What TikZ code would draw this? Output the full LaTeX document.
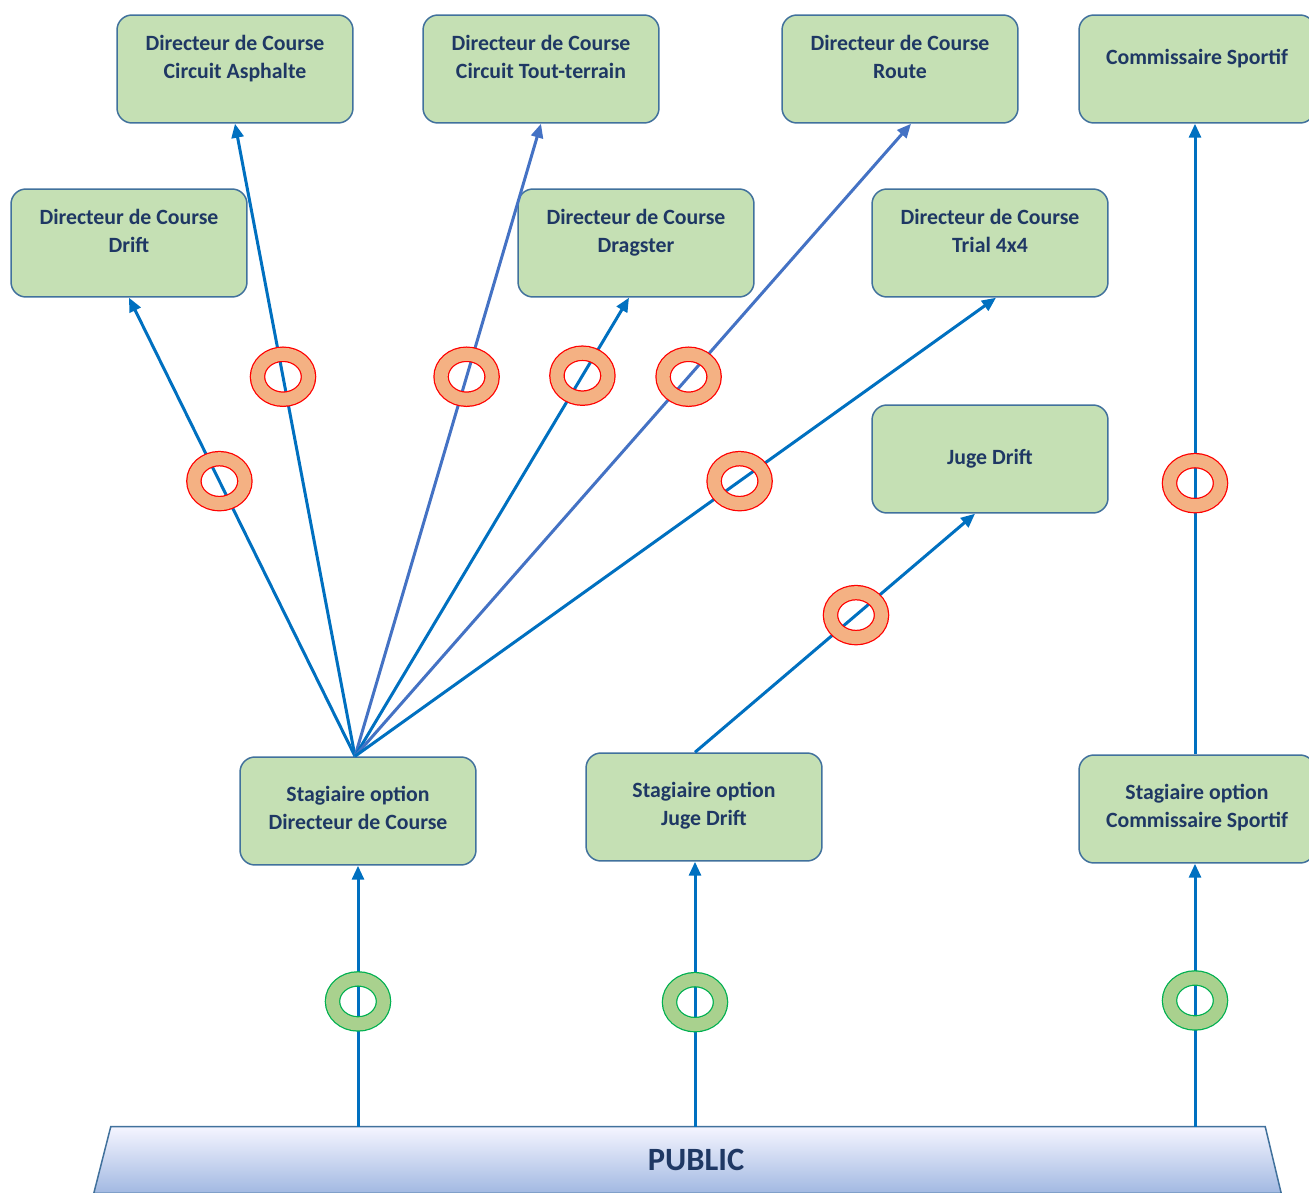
\documentclass[tikz,border=0pt]{standalone}
\usepackage{fontspec}
\setmainfont{Carlito}
\usetikzlibrary{shapes.geometric,arrows.meta}
\pgfdeclarelayer{fondo}
\pgfsetlayers{fondo, main}
\definecolor{vert}{HTML}{C5E0B4}
\definecolor{bord}{HTML}{41719C}
\definecolor{encre}{HTML}{1F3864}
\definecolor{bleu}{HTML}{0070C0}
\definecolor{bleuclair}{HTML}{4472C4}
\definecolor{peche}{HTML}{F4B183}
\definecolor{vertclair}{HTML}{A9D18E}
\definecolor{vertvif}{HTML}{00B050}
\tikzstyle{boite}=[rectangle,rounded corners=0.3cm,draw=bord,line width=0.03cm,fill=vert,minimum width=4.72cm,minimum height=2.16cm,align=center,text=encre,font=\fontsize{12.4pt}{15.9pt}\selectfont\bfseries,inner sep=0pt]
\tikzstyle{haut}=[text depth=0.5cm]
\tikzstyle{bas}=[text depth=0.14cm]
\tikzstyle{fleche}=[draw=bleu,line width=0.06cm,-{Triangle[length=0.28cm,width=0.24cm]}]
\tikzstyle{flecheclair}=[fleche,draw=bleuclair]
\tikzstyle{anneau}=[ellipse,draw=red,line width=0.025cm,double=peche,double distance=0.26cm,minimum width=1.02cm,minimum height=0.9cm,inner sep=0pt]
\tikzstyle{anneauvert}=[anneau,draw=vertvif,double=vertclair]

\begin{document}
\begin{tikzpicture}[x=0.02cm,y=-0.02cm]
	\useasboundingbox (0,0) rectangle (1309,1193);
	% rangee du haut
	\node [boite,haut] (asph) at (235,69) {Directeur de Course\\Circuit Asphalte};
	\node [boite,haut] (tout) at (541,69) {Directeur de Course\\Circuit Tout-terrain};
	\node [boite,haut] (route) at (900,69) {Directeur de Course\\Route};
	\node [boite,haut] (comm) at (1197,69) {Commissaire Sportif};
	\node [boite,haut] (drift) at (129,243) {Directeur de Course\\Drift};
	\node [boite,haut] (drag) at (636,243) {Directeur de Course\\Dragster};
	\node [boite,haut] (trial) at (990,243) {Directeur de Course\\Trial 4x4};
	\node [boite] (juge) at (990,459) {Juge Drift};
	% stagiaires
	\node [boite,bas] (stdc) at (358,811) {Stagiaire option\\Directeur de Course};
	\node [boite,bas] (stju) at (704,807) {Stagiaire option\\Juge Drift};
	\node [boite,bas] (stcs) at (1197,809) {Stagiaire option\\Commissaire Sportif};
	\node [minimum width=23.08cm,minimum height=1.32cm,text=encre,font=\fontsize{18.5pt}{21pt}\selectfont\bfseries] (pub) at (696,1160) {PUBLIC};
	\begin{pgfonlayer}{fondo}
		\shade [top color=blue!4,bottom color=bleuclair!50,draw=bord,line width=0.03cm] ([xshift=-0.16cm]pub.north west)--([xshift=-0.16cm]pub.north east)--([xshift=0.16cm]pub.south east)--([xshift=-0.5cm]pub.south west)--cycle;
	\end{pgfonlayer}

	\draw [fleche] ([xshift=-0.06cm]stdc.north) -- node [anneau,pos=0.6] (r1) {} (drift.south);
	\draw [fleche] ([xshift=-0.06cm]stdc.north) -- node [anneau,pos=0.6] (r2) {} (asph.south);
	\draw [flecheclair] ([xshift=-0.06cm]stdc.north) -- node [anneau,pos=0.6] (r3) {} (tout.south);
	\draw [fleche] ([xshift=-0.06cm]stdc.north) -- node [anneau,pos=0.83] (r4) {} ([xshift=-0.14cm]drag.south);
	\draw [flecheclair] ([xshift=-0.06cm]stdc.north) -- node [anneau,pos=0.6] (r5) {} ([xshift=0.22cm]route.south);
	\draw [fleche] ([xshift=-0.06cm]stdc.north) -- node [anneau,pos=0.6] (r6) {} ([xshift=0.12cm]trial.south);
	\draw [fleche] ([xshift=-0.18cm]stju.north) -- node [anneau,pos=0.575] (r7) {} ([xshift=-0.3cm]juge.south);
	\draw [fleche] ([xshift=-0.04cm]stcs.north) -- node [anneau,pos=0.43] (r8) {} ([xshift=-0.04cm]comm.south);

	\draw [fleche] (stdc.south |- pub.north) -- node [anneauvert,pos=0.48] (v1) {} (stdc.south);
	\draw [fleche] ([xshift=-0.18cm]stju.south |- pub.north) -- node [anneauvert,pos=0.47] (v2) {} ([xshift=-0.18cm]stju.south);
	\draw [fleche] ([xshift=-0.04cm]stcs.south |- pub.north) -- node [anneauvert,pos=0.48] (v3) {} ([xshift=-0.04cm]stcs.south);
\end{tikzpicture}
\end{document}
